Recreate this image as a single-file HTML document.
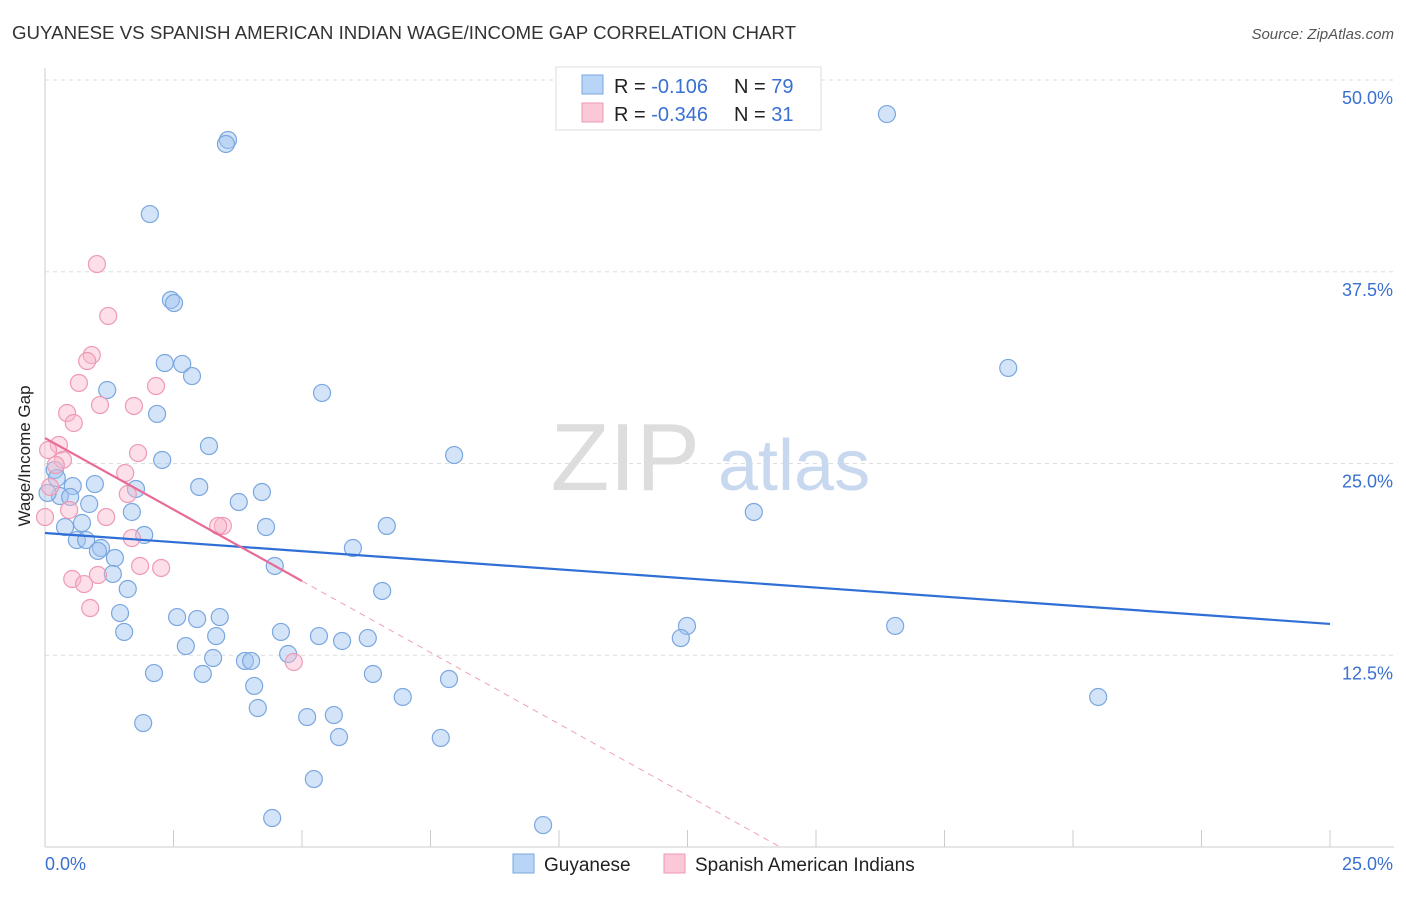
<!DOCTYPE html>
<html><head><meta charset="utf-8"><style>
body{margin:0;background:#fff;font-family:"Liberation Sans",sans-serif}
svg text{font-family:"Liberation Sans",sans-serif}
</style></head><body>
<svg id="chart" width="1406" height="892" xmlns="http://www.w3.org/2000/svg">
<text x="12" y="39" font-size="18" fill="#333" textLength="784" lengthAdjust="spacingAndGlyphs">GUYANESE VS SPANISH AMERICAN INDIAN WAGE/INCOME GAP CORRELATION CHART</text>
<text x="1394" y="39" font-size="15" fill="#555" font-style="italic" text-anchor="end">Source: ZipAtlas.com</text>
<g id="grid"></g>
<text x="700" y="490" font-size="96" fill="#ddd" font-family="Liberation Serif" text-anchor="end">ZIP</text>
<text x="718" y="490" font-size="72" fill="#c8d8ef">atlas</text>
<g id="marks"></g>
<text x="30" y="456" font-size="17" fill="#222" text-anchor="middle" transform="rotate(-90 30 456)">Wage/Income Gap</text>
<g>
<rect x="556" y="67" width="265" height="63" fill="#fff" stroke="#ddd"/>
<rect x="582" y="75" width="21" height="19" fill="#b8d4f7" stroke="#7aa7e0"/>
<rect x="582" y="103" width="21" height="19" fill="#fbc8d8" stroke="#ee9ab5"/>
<text x="614" y="93" font-size="20" fill="#222">R = <tspan fill="#3a70d0"> -0.106</tspan><tspan x="734">N = </tspan><tspan fill="#3a70d0">79</tspan></text>
<text x="614" y="121" font-size="20" fill="#222">R = <tspan fill="#3a70d0">-0.346</tspan><tspan x="734">N = </tspan><tspan fill="#3a70d0"> 31</tspan></text>
</g>
<g>
<rect x="513" y="854" width="21" height="19" fill="#b8d4f7" stroke="#7aa7e0"/>
<text x="544" y="871" font-size="19" fill="#222">Guyanese</text>
<rect x="664" y="854" width="21" height="19" fill="#fbc8d8" stroke="#ee9ab5"/>
<text x="695" y="871" font-size="19" fill="#222">Spanish American Indians</text>
</g>
</svg>
<script>
const yTicks=[12.5,25,37.5,50];
const yTickLabels=["12.5%","25.0%","37.5%","50.0%"];
const xTickLabels=["0.0%","25.0%"];
const blueX=[16.38,3.56,3.52,2.04,2.45,2.51,18.74,2.33,2.67,2.86,1.21,5.39,2.18,3.19,7.96,2.28,3.00,0.19,0.23,0.54,0.97,1.77,4.22,3.77,0.29,0.49,0.86,1.69,13.79,0.39,0.72,4.30,6.65,0.62,0.80,1.93,1.09,1.03,1.36,5.99,4.47,1.32,1.61,6.56,1.46,2.57,2.96,3.40,1.54,4.59,3.33,5.33,5.78,6.28,12.49,12.37,16.54,2.74,4.73,3.27,3.89,4.01,2.12,3.07,6.38,7.86,4.07,6.96,20.49,4.14,5.10,5.62,1.91,5.72,7.70,5.23,4.42,9.69,0.05];
const blueY=[47.78,46.09,45.83,41.26,35.66,35.46,31.23,31.55,31.49,30.70,29.79,29.60,28.23,26.14,25.55,25.23,23.47,24.58,24.05,23.53,23.66,23.34,23.14,22.49,22.88,22.82,22.36,21.84,21.84,20.86,21.12,20.86,20.93,20.01,20.01,20.34,19.49,19.30,18.84,19.49,18.32,17.80,16.82,16.69,15.25,14.99,14.86,14.99,14.02,14.02,13.75,13.75,13.43,13.62,14.41,13.62,14.41,13.10,12.58,12.32,12.13,12.13,11.34,11.28,11.28,10.95,10.50,9.78,9.78,9.06,8.47,8.60,8.08,7.17,7.11,4.43,1.89,1.43,23.08];
const pinkX=[1.01,1.23,0.91,0.82,0.66,2.16,1.07,0.43,1.73,0.56,0.27,0.06,0.35,0.21,1.81,1.56,1.61,0.10,0.47,1.19,0.0,3.46,3.37,1.69,1.85,2.26,1.03,0.53,0.76,0.88,4.84];
const pinkY=[38.0,34.62,32.07,31.68,30.25,30.05,28.81,28.29,28.75,27.64,26.21,25.88,25.23,24.90,25.68,24.38,23.01,23.47,21.97,21.51,21.51,20.93,20.93,20.14,18.32,18.19,17.73,17.47,17.14,15.58,12.06];
const blueTrend=[20.47,14.54];
const pinkTrend=[26.66,-1.864];
const X=v=>45+v*51.4, Y=v=>847-v*15.34;
const NS="http://www.w3.org/2000/svg";
const grid=document.getElementById('grid'), marks=document.getElementById('marks');
function mk(t,a,p){const e=document.createElementNS(NS,t);for(const k in a)e.setAttribute(k,a[k]);p.appendChild(e);return e;}
let ax=mk('line',{x1:45,y1:68,x2:45,y2:847,stroke:'#ccc'},grid);


let bx=mk('line',{x1:45,y1:847,x2:1394,y2:847,stroke:'#ccc'},grid);


for(let i=0;i<=10;i++){let t=mk('line',{x1:X(i*2.5),y1:830,x2:X(i*2.5),y2:847,stroke:'#ccc'},grid);

}
yTicks.forEach((v,i)=>{let g=mk('line',{x1:45,y1:Y(v),x2:1394,y2:Y(v),stroke:'#ddd','stroke-dasharray':'4,4'},grid);


let t=mk('text',{x:1393,y:Y(v)+24,'font-size':18,fill:'#3a70d0','text-anchor':'end'},grid);t.textContent=yTickLabels[i];

});
xTickLabels.forEach((l,i)=>{let t=mk('text',{x:i?1393:45,y:870,'font-size':18,fill:'#3a70d0','text-anchor':i?'end':'start'},grid);t.textContent=l;

});
blueX.forEach((x,i)=>{let c=mk('circle',{cx:X(x),cy:Y(blueY[i]),r:8.5,fill:'rgba(160,196,240,0.45)',stroke:'#7aa7e0','stroke-width':1.2},marks);

});
pinkX.forEach((x,i)=>{let c=mk('circle',{cx:X(x),cy:Y(pinkY[i]),r:8.5,fill:'rgba(248,184,204,0.45)',stroke:'#ee9ab5','stroke-width':1.2},marks);

});
let bl=mk('line',{x1:X(0),y1:Y(blueTrend[0]),x2:X(25),y2:Y(blueTrend[1]),stroke:'#2f6fd6','stroke-width':2.2},marks);


const pf=x=>pinkTrend[0]+pinkTrend[1]*x;
let pl=mk('line',{x1:X(0),y1:Y(pf(0)),x2:X(5),y2:Y(pf(5)),stroke:'#e86a96','stroke-width':2.2},marks);


const xEnd=-pinkTrend[0]/pinkTrend[1];
let pd=mk('line',{x1:X(5),y1:Y(pf(5)),x2:X(xEnd),y2:Y(0),stroke:'#eea0bb','stroke-width':1,'stroke-dasharray':'6,5'},marks);


</script>
</body></html>
